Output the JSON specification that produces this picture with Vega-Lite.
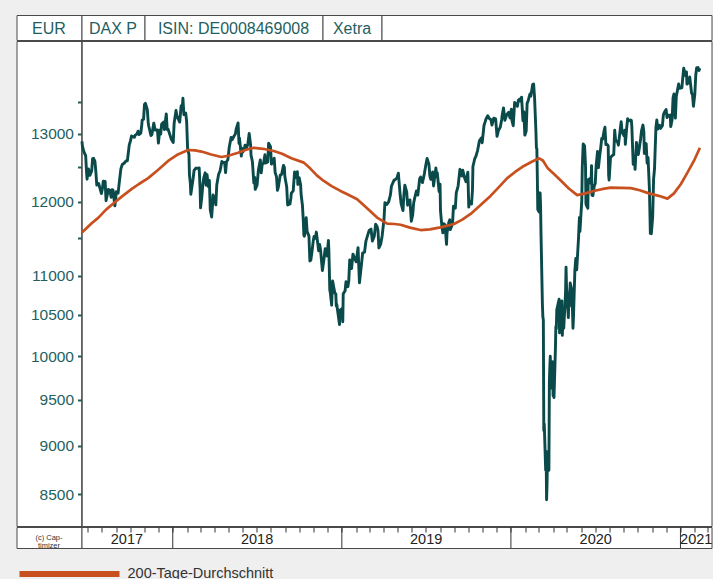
{
  "$schema": "https://vega.github.io/schema/vega-lite/v6.json",
  "background": "#efefef",
  "padding": {"left": 15.5, "top": 14, "right": 0, "bottom": 0},
  "config": {
    "font": "Liberation Sans",
    "view": {"stroke": "#4a4a4a", "strokeWidth": 1, "fill": "white"},
    "concat": {"spacing": 0}
  },
  "datasets": {
    "dax": [
      {"d":"2017-06-19","v":12888},{"d":"2017-06-20","v":12815},{"d":"2017-06-23","v":12733},{"d":"2017-06-27","v":12671},{"d":"2017-06-29","v":12416},{"d":"2017-06-30","v":12325},
      {"d":"2017-07-03","v":12475},{"d":"2017-07-06","v":12381},{"d":"2017-07-10","v":12445},{"d":"2017-07-12","v":12627},{"d":"2017-07-14","v":12632},{"d":"2017-07-17","v":12587},{"d":"2017-07-19","v":12430},{"d":"2017-07-21","v":12240},{"d":"2017-07-25","v":12263},{"d":"2017-07-27","v":12212},{"d":"2017-07-31","v":12118},
      {"d":"2017-08-02","v":12182},{"d":"2017-08-04","v":12297},{"d":"2017-08-08","v":12292},{"d":"2017-08-10","v":12015},{"d":"2017-08-15","v":12177},{"d":"2017-08-18","v":12165},{"d":"2017-08-21","v":12065},{"d":"2017-08-23","v":12174},{"d":"2017-08-25","v":12168},{"d":"2017-08-29","v":11945},{"d":"2017-08-31","v":12056},
      {"d":"2017-09-01","v":12143},{"d":"2017-09-05","v":12124},{"d":"2017-09-08","v":12304},{"d":"2017-09-11","v":12476},{"d":"2017-09-14","v":12540},{"d":"2017-09-18","v":12559},{"d":"2017-09-22","v":12592},{"d":"2017-09-25","v":12595},{"d":"2017-09-29","v":12829},
      {"d":"2017-10-02","v":12902},{"d":"2017-10-04","v":12970},{"d":"2017-10-10","v":12949},{"d":"2017-10-12","v":12982},{"d":"2017-10-16","v":13003},{"d":"2017-10-18","v":13043},{"d":"2017-10-20","v":12991},{"d":"2017-10-24","v":13013},{"d":"2017-10-26","v":13133},{"d":"2017-10-27","v":13217},{"d":"2017-10-30","v":13229},
      {"d":"2017-11-01","v":13465},{"d":"2017-11-03","v":13478},{"d":"2017-11-07","v":13382},{"d":"2017-11-09","v":13183},{"d":"2017-11-10","v":13127},{"d":"2017-11-15","v":12976},{"d":"2017-11-17","v":12993},{"d":"2017-11-21","v":13168},{"d":"2017-11-24","v":13060},{"d":"2017-11-29","v":13061},
      {"d":"2017-12-01","v":12861},{"d":"2017-12-04","v":13058},{"d":"2017-12-06","v":12998},{"d":"2017-12-08","v":13153},{"d":"2017-12-12","v":13183},{"d":"2017-12-14","v":13068},{"d":"2017-12-18","v":13312},{"d":"2017-12-20","v":13069},{"d":"2017-12-22","v":13072},{"d":"2017-12-29","v":12918},
      {"d":"2018-01-02","v":12871},{"d":"2018-01-04","v":13167},{"d":"2018-01-08","v":13367},{"d":"2018-01-10","v":13282},{"d":"2018-01-12","v":13245},{"d":"2018-01-16","v":13184},{"d":"2018-01-19","v":13434},{"d":"2018-01-22","v":13463},{"d":"2018-01-23","v":13560},{"d":"2018-01-25","v":13298},{"d":"2018-01-29","v":13324},{"d":"2018-01-31","v":13189},
      {"d":"2018-02-02","v":12785},{"d":"2018-02-05","v":12687},{"d":"2018-02-06","v":12392},{"d":"2018-02-08","v":12260},{"d":"2018-02-09","v":12107},{"d":"2018-02-14","v":12339},{"d":"2018-02-16","v":12452},{"d":"2018-02-20","v":12488},{"d":"2018-02-23","v":12483},{"d":"2018-02-27","v":12490},
      {"d":"2018-03-01","v":12190},{"d":"2018-03-02","v":11914},{"d":"2018-03-05","v":12090},{"d":"2018-03-07","v":12245},{"d":"2018-03-09","v":12346},{"d":"2018-03-12","v":12418},{"d":"2018-03-14","v":12237},{"d":"2018-03-16","v":12390},{"d":"2018-03-19","v":12217},{"d":"2018-03-21","v":12307},{"d":"2018-03-22","v":12100},{"d":"2018-03-23","v":11886},{"d":"2018-03-26","v":11787},{"d":"2018-03-28","v":11970},{"d":"2018-03-29","v":12096},
      {"d":"2018-04-03","v":12002},{"d":"2018-04-04","v":11957},{"d":"2018-04-06","v":12241},{"d":"2018-04-10","v":12397},{"d":"2018-04-13","v":12442},{"d":"2018-04-17","v":12585},{"d":"2018-04-19","v":12567},{"d":"2018-04-23","v":12572},{"d":"2018-04-25","v":12422},{"d":"2018-04-27","v":12580},{"d":"2018-04-30","v":12612},
      {"d":"2018-05-03","v":12802},{"d":"2018-05-07","v":12948},{"d":"2018-05-09","v":12912},{"d":"2018-05-14","v":12977},{"d":"2018-05-16","v":12996},{"d":"2018-05-18","v":13077},{"d":"2018-05-22","v":13170},{"d":"2018-05-24","v":12856},{"d":"2018-05-25","v":12938},{"d":"2018-05-29","v":12666},{"d":"2018-05-30","v":12783},
      {"d":"2018-06-01","v":12724},{"d":"2018-06-05","v":12787},{"d":"2018-06-06","v":12830},{"d":"2018-06-08","v":12766},{"d":"2018-06-12","v":12842},{"d":"2018-06-15","v":13010},{"d":"2018-06-18","v":12834},{"d":"2018-06-19","v":12677},{"d":"2018-06-22","v":12580},{"d":"2018-06-25","v":12270},{"d":"2018-06-27","v":12349},{"d":"2018-06-28","v":12177},
      {"d":"2018-07-02","v":12238},{"d":"2018-07-05","v":12464},{"d":"2018-07-09","v":12609},{"d":"2018-07-11","v":12417},{"d":"2018-07-13","v":12540},{"d":"2018-07-16","v":12561},{"d":"2018-07-19","v":12686},{"d":"2018-07-20","v":12561},{"d":"2018-07-25","v":12579},{"d":"2018-07-27","v":12860},{"d":"2018-07-31","v":12806},
      {"d":"2018-08-02","v":12546},{"d":"2018-08-06","v":12588},{"d":"2018-08-08","v":12633},{"d":"2018-08-10","v":12424},{"d":"2018-08-13","v":12358},{"d":"2018-08-15","v":12163},{"d":"2018-08-17","v":12210},{"d":"2018-08-21","v":12384},{"d":"2018-08-24","v":12394},{"d":"2018-08-28","v":12527},{"d":"2018-08-30","v":12494},{"d":"2018-08-31","v":12364},
      {"d":"2018-09-04","v":12210},{"d":"2018-09-06","v":11955},{"d":"2018-09-07","v":11959},{"d":"2018-09-11","v":11970},{"d":"2018-09-13","v":12055},{"d":"2018-09-14","v":12124},{"d":"2018-09-18","v":12157},{"d":"2018-09-21","v":12431},{"d":"2018-09-24","v":12350},{"d":"2018-09-27","v":12435},{"d":"2018-09-28","v":12247},
      {"d":"2018-10-01","v":12346},{"d":"2018-10-04","v":12244},{"d":"2018-10-05","v":12111},{"d":"2018-10-08","v":11947},{"d":"2018-10-10","v":11712},{"d":"2018-10-11","v":11539},{"d":"2018-10-12","v":11523},{"d":"2018-10-15","v":11614},{"d":"2018-10-16","v":11777},{"d":"2018-10-18","v":11589},{"d":"2018-10-22","v":11524},{"d":"2018-10-24","v":11191},{"d":"2018-10-26","v":11201},{"d":"2018-10-29","v":11335},{"d":"2018-10-31","v":11447},
      {"d":"2018-11-02","v":11519},{"d":"2018-11-05","v":11494},{"d":"2018-11-07","v":11579},{"d":"2018-11-08","v":11527},{"d":"2018-11-12","v":11325},{"d":"2018-11-14","v":11412},{"d":"2018-11-16","v":11341},{"d":"2018-11-20","v":11066},{"d":"2018-11-23","v":11193},{"d":"2018-11-26","v":11354},{"d":"2018-11-28","v":11299},{"d":"2018-11-30","v":11257},
      {"d":"2018-12-03","v":11466},{"d":"2018-12-04","v":11335},{"d":"2018-12-06","v":10811},{"d":"2018-12-07","v":10788},{"d":"2018-12-10","v":10622},{"d":"2018-12-12","v":10931},{"d":"2018-12-14","v":10866},{"d":"2018-12-17","v":10772},{"d":"2018-12-19","v":10766},{"d":"2018-12-20","v":10611},{"d":"2018-12-21","v":10634},{"d":"2018-12-27","v":10382},{"d":"2018-12-28","v":10559},
      {"d":"2019-01-02","v":10580},{"d":"2019-01-03","v":10416},{"d":"2019-01-04","v":10767},{"d":"2019-01-08","v":10803},{"d":"2019-01-10","v":10921},{"d":"2019-01-14","v":10856},{"d":"2019-01-16","v":10931},{"d":"2019-01-18","v":11205},{"d":"2019-01-22","v":11090},{"d":"2019-01-25","v":11282},{"d":"2019-01-29","v":11218},
      {"d":"2019-02-01","v":11180},{"d":"2019-02-05","v":11368},{"d":"2019-02-08","v":10907},{"d":"2019-02-12","v":11126},{"d":"2019-02-15","v":11299},{"d":"2019-02-19","v":11309},{"d":"2019-02-22","v":11457},{"d":"2019-02-26","v":11540},
      {"d":"2019-03-01","v":11602},{"d":"2019-03-05","v":11620},{"d":"2019-03-08","v":11458},{"d":"2019-03-12","v":11524},{"d":"2019-03-15","v":11686},{"d":"2019-03-18","v":11657},{"d":"2019-03-20","v":11604},{"d":"2019-03-22","v":11364},{"d":"2019-03-26","v":11419},{"d":"2019-03-29","v":11526},
      {"d":"2019-04-02","v":11754},{"d":"2019-04-04","v":11988},{"d":"2019-04-08","v":11963},{"d":"2019-04-12","v":11999},{"d":"2019-04-16","v":12101},{"d":"2019-04-18","v":12222},{"d":"2019-04-24","v":12314},{"d":"2019-04-26","v":12315},{"d":"2019-04-30","v":12344},
      {"d":"2019-05-03","v":12412},{"d":"2019-05-07","v":12093},{"d":"2019-05-09","v":11973},{"d":"2019-05-13","v":11876},{"d":"2019-05-15","v":12099},{"d":"2019-05-17","v":12238},{"d":"2019-05-21","v":12143},{"d":"2019-05-23","v":11952},{"d":"2019-05-28","v":12027},{"d":"2019-05-31","v":11727},
      {"d":"2019-06-03","v":11820},{"d":"2019-06-05","v":11980},{"d":"2019-06-07","v":12045},{"d":"2019-06-11","v":12155},{"d":"2019-06-14","v":12096},{"d":"2019-06-18","v":12331},{"d":"2019-06-20","v":12355},{"d":"2019-06-24","v":12275},{"d":"2019-06-28","v":12399},
      {"d":"2019-07-01","v":12521},{"d":"2019-07-04","v":12629},{"d":"2019-07-08","v":12543},{"d":"2019-07-10","v":12373},{"d":"2019-07-12","v":12323},{"d":"2019-07-16","v":12430},{"d":"2019-07-18","v":12227},{"d":"2019-07-23","v":12490},{"d":"2019-07-25","v":12362},{"d":"2019-07-26","v":12419},{"d":"2019-07-30","v":12147},
      {"d":"2019-08-01","v":12253},{"d":"2019-08-02","v":11872},{"d":"2019-08-05","v":11658},{"d":"2019-08-07","v":11568},{"d":"2019-08-09","v":11694},{"d":"2019-08-12","v":11679},{"d":"2019-08-14","v":11493},{"d":"2019-08-15","v":11412},{"d":"2019-08-16","v":11563},{"d":"2019-08-20","v":11715},{"d":"2019-08-22","v":11747},{"d":"2019-08-23","v":11612},{"d":"2019-08-26","v":11658},{"d":"2019-08-28","v":11701},{"d":"2019-08-30","v":11939},
      {"d":"2019-09-03","v":11911},{"d":"2019-09-05","v":12126},{"d":"2019-09-09","v":12226},{"d":"2019-09-12","v":12410},{"d":"2019-09-13","v":12469},{"d":"2019-09-17","v":12372},{"d":"2019-09-19","v":12457},{"d":"2019-09-23","v":12342},{"d":"2019-09-26","v":12288},{"d":"2019-09-30","v":12428},
      {"d":"2019-10-02","v":11925},{"d":"2019-10-04","v":12012},{"d":"2019-10-08","v":11970},{"d":"2019-10-10","v":12165},{"d":"2019-10-11","v":12511},{"d":"2019-10-15","v":12629},{"d":"2019-10-17","v":12654},{"d":"2019-10-21","v":12748},{"d":"2019-10-25","v":12895},{"d":"2019-10-29","v":12939},{"d":"2019-10-31","v":12867},
      {"d":"2019-11-04","v":13136},{"d":"2019-11-06","v":13179},{"d":"2019-11-08","v":13228},{"d":"2019-11-12","v":13283},{"d":"2019-11-15","v":13242},{"d":"2019-11-19","v":13221},{"d":"2019-11-21","v":13137},{"d":"2019-11-25","v":13246},{"d":"2019-11-29","v":13236},
      {"d":"2019-12-02","v":12964},{"d":"2019-12-03","v":12989},{"d":"2019-12-05","v":13055},{"d":"2019-12-09","v":13105},{"d":"2019-12-12","v":13221},{"d":"2019-12-13","v":13283},{"d":"2019-12-16","v":13407},{"d":"2019-12-19","v":13212},{"d":"2019-12-23","v":13300},{"d":"2019-12-27","v":13337},{"d":"2019-12-30","v":13249},
      {"d":"2020-01-02","v":13386},{"d":"2020-01-03","v":13219},{"d":"2020-01-06","v":13127},{"d":"2020-01-09","v":13495},{"d":"2020-01-13","v":13452},{"d":"2020-01-15","v":13432},{"d":"2020-01-17","v":13526},{"d":"2020-01-20","v":13548},{"d":"2020-01-22","v":13515},{"d":"2020-01-24","v":13577},{"d":"2020-01-27","v":13205},{"d":"2020-01-29","v":13345},{"d":"2020-01-31","v":12982},
      {"d":"2020-02-03","v":13046},{"d":"2020-02-05","v":13479},{"d":"2020-02-07","v":13514},{"d":"2020-02-11","v":13627},{"d":"2020-02-13","v":13595},{"d":"2020-02-17","v":13784},{"d":"2020-02-19","v":13789},{"d":"2020-02-21","v":13579},{"d":"2020-02-24","v":13035},{"d":"2020-02-25","v":12790},{"d":"2020-02-26","v":12774},{"d":"2020-02-27","v":12367},{"d":"2020-02-28","v":11890},
      {"d":"2020-03-02","v":11857},{"d":"2020-03-03","v":11985},{"d":"2020-03-04","v":12128},{"d":"2020-03-05","v":11944},{"d":"2020-03-06","v":11542},{"d":"2020-03-09","v":10625},{"d":"2020-03-10","v":10475},{"d":"2020-03-11","v":10439},{"d":"2020-03-12","v":9161},{"d":"2020-03-13","v":9232},{"d":"2020-03-16","v":8742},{"d":"2020-03-17","v":8939},{"d":"2020-03-18","v":8442},{"d":"2020-03-19","v":8610},{"d":"2020-03-20","v":8929},{"d":"2020-03-23","v":8742},{"d":"2020-03-24","v":9701},{"d":"2020-03-25","v":9874},{"d":"2020-03-26","v":10001},{"d":"2020-03-27","v":9633},{"d":"2020-03-30","v":9816},{"d":"2020-03-31","v":9936},
      {"d":"2020-04-01","v":9544},{"d":"2020-04-02","v":9571},{"d":"2020-04-03","v":9525},{"d":"2020-04-06","v":10075},{"d":"2020-04-07","v":10357},{"d":"2020-04-08","v":10332},{"d":"2020-04-09","v":10565},{"d":"2020-04-14","v":10697},{"d":"2020-04-15","v":10280},{"d":"2020-04-16","v":10301},{"d":"2020-04-17","v":10626},{"d":"2020-04-20","v":10676},{"d":"2020-04-21","v":10250},{"d":"2020-04-22","v":10416},{"d":"2020-04-23","v":10514},{"d":"2020-04-24","v":10337},{"d":"2020-04-27","v":10659},{"d":"2020-04-28","v":10796},{"d":"2020-04-29","v":11108},{"d":"2020-04-30","v":10862},
      {"d":"2020-05-04","v":10467},{"d":"2020-05-05","v":10730},{"d":"2020-05-06","v":10607},{"d":"2020-05-08","v":10904},{"d":"2020-05-11","v":10825},{"d":"2020-05-13","v":10543},{"d":"2020-05-14","v":10337},{"d":"2020-05-15","v":10465},{"d":"2020-05-18","v":11058},{"d":"2020-05-20","v":11223},{"d":"2020-05-22","v":11074},{"d":"2020-05-26","v":11504},{"d":"2020-05-27","v":11657},{"d":"2020-05-28","v":11781},{"d":"2020-05-29","v":11587},
      {"d":"2020-06-02","v":12021},{"d":"2020-06-03","v":12487},{"d":"2020-06-05","v":12848},{"d":"2020-06-08","v":12820},{"d":"2020-06-10","v":12530},{"d":"2020-06-11","v":11970},{"d":"2020-06-12","v":11949},{"d":"2020-06-15","v":11911},{"d":"2020-06-16","v":12316},{"d":"2020-06-18","v":12281},{"d":"2020-06-19","v":12331},{"d":"2020-06-22","v":12262},{"d":"2020-06-23","v":12524},{"d":"2020-06-24","v":12093},{"d":"2020-06-26","v":12089},{"d":"2020-06-29","v":12232},
      {"d":"2020-07-01","v":12260},{"d":"2020-07-03","v":12528},{"d":"2020-07-06","v":12734},{"d":"2020-07-08","v":12494},{"d":"2020-07-10","v":12633},{"d":"2020-07-13","v":12800},{"d":"2020-07-15","v":12931},{"d":"2020-07-17","v":12920},{"d":"2020-07-20","v":13046},{"d":"2020-07-22","v":13104},{"d":"2020-07-24","v":12838},{"d":"2020-07-27","v":12839},{"d":"2020-07-29","v":12822},{"d":"2020-07-30","v":12380},{"d":"2020-07-31","v":12313},
      {"d":"2020-08-03","v":12647},{"d":"2020-08-05","v":12660},{"d":"2020-08-07","v":12675},{"d":"2020-08-10","v":12688},{"d":"2020-08-12","v":13058},{"d":"2020-08-14","v":12901},{"d":"2020-08-18","v":12882},{"d":"2020-08-20","v":12830},{"d":"2020-08-24","v":13066},{"d":"2020-08-26","v":13190},{"d":"2020-08-28","v":13033},
      {"d":"2020-09-01","v":12974},{"d":"2020-09-03","v":13057},{"d":"2020-09-04","v":12842},{"d":"2020-09-07","v":13100},{"d":"2020-09-09","v":13237},{"d":"2020-09-11","v":13202},{"d":"2020-09-15","v":13218},{"d":"2020-09-17","v":13208},{"d":"2020-09-18","v":13116},{"d":"2020-09-21","v":12542},{"d":"2020-09-23","v":12643},{"d":"2020-09-24","v":12606},{"d":"2020-09-25","v":12469},{"d":"2020-09-28","v":12871},{"d":"2020-09-30","v":12761},
      {"d":"2020-10-02","v":12689},{"d":"2020-10-05","v":12828},{"d":"2020-10-07","v":12928},{"d":"2020-10-09","v":13051},{"d":"2020-10-12","v":13138},{"d":"2020-10-14","v":13028},{"d":"2020-10-15","v":12704},{"d":"2020-10-19","v":12854},{"d":"2020-10-21","v":12558},{"d":"2020-10-23","v":12646},{"d":"2020-10-26","v":12178},{"d":"2020-10-28","v":11561},{"d":"2020-10-30","v":11556},
      {"d":"2020-11-02","v":11788},{"d":"2020-11-04","v":12324},{"d":"2020-11-06","v":12480},{"d":"2020-11-09","v":13096},{"d":"2020-11-11","v":13216},{"d":"2020-11-13","v":13077},{"d":"2020-11-17","v":13133},{"d":"2020-11-19","v":13086},{"d":"2020-11-23","v":13127},{"d":"2020-11-25","v":13290},{"d":"2020-11-27","v":13335},
      {"d":"2020-12-01","v":13382},{"d":"2020-12-03","v":13253},{"d":"2020-12-04","v":13299},{"d":"2020-12-08","v":13278},{"d":"2020-12-10","v":13296},{"d":"2020-12-11","v":13114},{"d":"2020-12-14","v":13223},{"d":"2020-12-16","v":13566},{"d":"2020-12-18","v":13630},{"d":"2020-12-21","v":13246},{"d":"2020-12-23","v":13588},{"d":"2020-12-28","v":13790},{"d":"2020-12-30","v":13719},
      {"d":"2021-01-04","v":13727},{"d":"2021-01-06","v":13892},{"d":"2021-01-08","v":14050},{"d":"2021-01-12","v":13925},{"d":"2021-01-14","v":13989},{"d":"2021-01-15","v":13788},{"d":"2021-01-19","v":13816},{"d":"2021-01-21","v":13906},{"d":"2021-01-25","v":13643},{"d":"2021-01-27","v":13620},{"d":"2021-01-29","v":13433},
      {"d":"2021-02-01","v":13623},{"d":"2021-02-03","v":13933},{"d":"2021-02-05","v":14057},{"d":"2021-02-08","v":14060},{"d":"2021-02-10","v":14011},{"d":"2021-02-12","v":14050}
    ],
    "ma": [
      {"d":"2017-06-19","v":11573},{"d":"2017-07-10","v":11700},{"d":"2017-07-24","v":11775},{"d":"2017-08-10","v":11890},{"d":"2017-08-29","v":11993},{"d":"2017-09-15","v":12085},{"d":"2017-10-04","v":12180},{"d":"2017-10-20","v":12255},{"d":"2017-11-09","v":12340},{"d":"2017-11-30","v":12460},{"d":"2017-12-22","v":12593},
      {"d":"2018-01-12","v":12690},{"d":"2018-02-03","v":12757},{"d":"2018-02-18","v":12750},{"d":"2018-03-04","v":12733},{"d":"2018-03-25","v":12690},{"d":"2018-04-16","v":12652},{"d":"2018-05-01","v":12670},{"d":"2018-05-22","v":12715},{"d":"2018-06-10","v":12765},{"d":"2018-06-25","v":12790},{"d":"2018-07-15","v":12775},{"d":"2018-08-07","v":12742},{"d":"2018-08-25","v":12700},{"d":"2018-09-14","v":12632},{"d":"2018-10-11","v":12568},{"d":"2018-10-25","v":12480},{"d":"2018-11-08","v":12380},{"d":"2018-11-23","v":12299},{"d":"2018-12-10","v":12225},{"d":"2018-12-29","v":12155},
      {"d":"2019-01-15","v":12100},{"d":"2019-02-03","v":12037},{"d":"2019-02-24","v":11914},{"d":"2019-03-18","v":11779},{"d":"2019-04-09","v":11695},{"d":"2019-04-25","v":11690},{"d":"2019-05-08","v":11680},{"d":"2019-05-28","v":11640},{"d":"2019-06-20","v":11607},{"d":"2019-07-10","v":11615},{"d":"2019-08-02","v":11644},{"d":"2019-08-31","v":11690},{"d":"2019-09-18","v":11750},{"d":"2019-10-06","v":11830},{"d":"2019-10-27","v":11950},{"d":"2019-11-18","v":12084},{"d":"2019-12-06","v":12210},{"d":"2019-12-24","v":12340},
      {"d":"2020-01-10","v":12430},{"d":"2020-01-29","v":12519},{"d":"2020-02-15","v":12580},{"d":"2020-03-02","v":12632},{"d":"2020-03-10","v":12600},{"d":"2020-03-20","v":12490},{"d":"2020-04-03","v":12400},{"d":"2020-04-17","v":12310},{"d":"2020-05-05","v":12190},{"d":"2020-05-23","v":12095},{"d":"2020-06-10","v":12120},{"d":"2020-06-28","v":12155},{"d":"2020-07-15","v":12180},{"d":"2020-08-03","v":12203},{"d":"2020-08-25","v":12200},{"d":"2020-09-16","v":12195},{"d":"2020-10-05","v":12165},{"d":"2020-10-25","v":12120},{"d":"2020-11-15","v":12085},{"d":"2020-12-04","v":12045},{"d":"2020-12-18","v":12120},
      {"d":"2021-01-02","v":12255},{"d":"2021-01-16","v":12420},{"d":"2021-01-30","v":12593},{"d":"2021-02-12","v":12790}
    ],
    "years": [
      {"d":"2017-09-24","y":"2017"},{"d":"2018-07-02","y":"2018"},{"d":"2019-07-02","y":"2019"},{"d":"2020-07-02","y":"2020"},{"d":"2021-02-04","y":"2021"}
    ],
    "bounds": [
      {"d":"2018-01-01"},{"d":"2019-01-01"},{"d":"2020-01-01"},{"d":"2021-01-01"}
    ]
  },
  "spacing": -1,
  "vconcat": [
    {
      "spacing": 0,
      "bounds": "flush",
      "hconcat": [
        {"width": 65, "height": 25, "data": {"values": [{"t": "EUR", "p": 0.5}]}, "mark": {"type": "text", "fontSize": 16, "color": "#1f5f5f", "dy": 1}, "encoding": {"x": {"field": "p", "type": "quantitative", "scale": {"domain": [0, 1]}, "axis": null}, "y": {"field": "p", "type": "quantitative", "scale": {"domain": [0, 1]}, "axis": null}, "text": {"field": "t"}}},
        {"width": 63, "height": 25, "data": {"values": [{"t": "DAX P", "p": 0.5}]}, "mark": {"type": "text", "fontSize": 16, "color": "#1f5f5f", "dy": 1}, "encoding": {"x": {"field": "p", "type": "quantitative", "scale": {"domain": [0, 1]}, "axis": null}, "y": {"field": "p", "type": "quantitative", "scale": {"domain": [0, 1]}, "axis": null}, "text": {"field": "t"}}},
        {"width": 178, "height": 25, "data": {"values": [{"t": "ISIN: DE0008469008", "p": 0.5}]}, "mark": {"type": "text", "fontSize": 16, "color": "#1f5f5f", "dy": 1}, "encoding": {"x": {"field": "p", "type": "quantitative", "scale": {"domain": [0, 1]}, "axis": null}, "y": {"field": "p", "type": "quantitative", "scale": {"domain": [0, 1]}, "axis": null}, "text": {"field": "t"}}},
        {"width": 59, "height": 25, "data": {"values": [{"t": "Xetra", "p": 0.5}]}, "mark": {"type": "text", "fontSize": 16, "color": "#1f5f5f", "dy": 1}, "encoding": {"x": {"field": "p", "type": "quantitative", "scale": {"domain": [0, 1]}, "axis": null}, "y": {"field": "p", "type": "quantitative", "scale": {"domain": [0, 1]}, "axis": null}, "text": {"field": "t"}}},
        {"width": 330, "height": 25, "data": {"values": [{"t": "", "p": 0.5}]}, "mark": {"type": "text", "fontSize": 16}, "encoding": {"x": {"field": "p", "type": "quantitative", "scale": {"domain": [0, 1]}, "axis": null}, "y": {"field": "p", "type": "quantitative", "scale": {"domain": [0, 1]}, "axis": null}, "text": {"field": "t"}}}
      ]
    },
    {
      "spacing": 0,
      "bounds": "flush",
      "hconcat": [
        {"width": 65, "height": 485, "data": {"values": [{"t": "", "p": 0.5}]}, "mark": {"type": "text"}, "encoding": {"x": {"field": "p", "type": "quantitative", "scale": {"domain": [0, 1]}, "axis": null}, "y": {"field": "p", "type": "quantitative", "scale": {"domain": [0, 1]}, "axis": null}, "text": {"field": "t"}}},
        {
          "width": 630,
          "height": 485,
          "layer": [
            {
              "data": {"name": "dax"},
              "mark": {"type": "line", "color": "#0b4a4a", "strokeWidth": 2.9, "strokeJoin": "round"},
              "encoding": {
                "x": {"field": "d", "type": "temporal", "scale": {"type": "utc", "domain": [{"year": 2017, "month": 6, "date": 18, "utc": true}, {"year": 2021, "month": 3, "date": 9, "utc": true}]}, "axis": null},
                "y": {
                  "field": "v", "type": "quantitative",
                  "scale": {"type": "log", "domain": [8185, 14508], "nice": false},
                  "axis": {
                    "title": null, "grid": false,
                    "values": [8500, 9000, 9500, 10000, 10500, 11000, 11500, 12000, 12500, 13000, 13500],
                    "labelExpr": "indexof([11500, 12500, 13500], datum.value) >= 0 ? '' : datum.value",
                    "labelFontSize": 15.5, "labelColor": "#1f5f5f", "labelPadding": 4, "labelOverlap": false, "labelFlush": false,
                    "tickColor": "#1f5f5f", "tickWidth": 2, "tickSize": 4,
                    "domainColor": "#4a4a4a", "domainWidth": 1
                  }
                }
              }
            },
            {
              "data": {"name": "ma"},
              "mark": {"type": "line", "strokeWidth": 2.7, "strokeJoin": "round"},
              "encoding": {
                "x": {"field": "d", "type": "temporal"},
                "y": {"field": "v", "type": "quantitative"},
                "color": {
                  "datum": "200-Tage-Durchschnitt",
                  "scale": {"range": ["#c8501e"]},
                  "legend": {
                    "orient": "none", "legendX": 0, "legendY": 506, "title": null,
                    "symbolType": "stroke", "symbolSize": 10000, "symbolStrokeWidth": 6,
                    "labelFontSize": 14.5, "labelColor": "#333333", "labelOffset": 5, "padding": 0
                  }
                }
              }
            }
          ]
        }
      ]
    },
    {
      "spacing": 0,
      "bounds": "flush",
      "hconcat": [
        {"width": 65, "height": 21, "data": {"values": [{"t": ["(c) Cap-", "timizer"], "p": 0.5}]}, "mark": {"type": "text", "fontSize": 7.5, "lineHeight": 8, "color": "#333333"}, "encoding": {"x": {"field": "p", "type": "quantitative", "scale": {"domain": [0, 1]}, "axis": null}, "y": {"field": "p", "type": "quantitative", "scale": {"domain": [0, 1]}, "axis": null}, "text": {"field": "t"}}},
        {
          "width": 630,
          "height": 21,
          "layer": [
            {
              "data": {"name": "bounds"},
              "mark": {"type": "rule", "color": "#333333", "strokeWidth": 1},
              "encoding": {
                "x": {"field": "d", "type": "temporal", "scale": {"type": "utc", "domain": [{"year": 2017, "month": 6, "date": 18, "utc": true}, {"year": 2021, "month": 3, "date": 9, "utc": true}]},
                  "axis": {"orient": "top", "labels": false, "domain": false, "title": null, "grid": false, "tickCount": {"interval": "month", "step": 1}, "tickSize": -5, "tickColor": "#333333", "tickWidth": 1, "minExtent": 0, "maxExtent": 0}}
              }
            },
            {
              "data": {"name": "years"},
              "mark": {"type": "text", "fontSize": 14.5, "color": "#222222", "dy": 2},
              "encoding": {
                "x": {"field": "d", "type": "temporal"},
                "text": {"field": "y"}
              }
            }
          ]
        }
      ]
    }
  ]
}
